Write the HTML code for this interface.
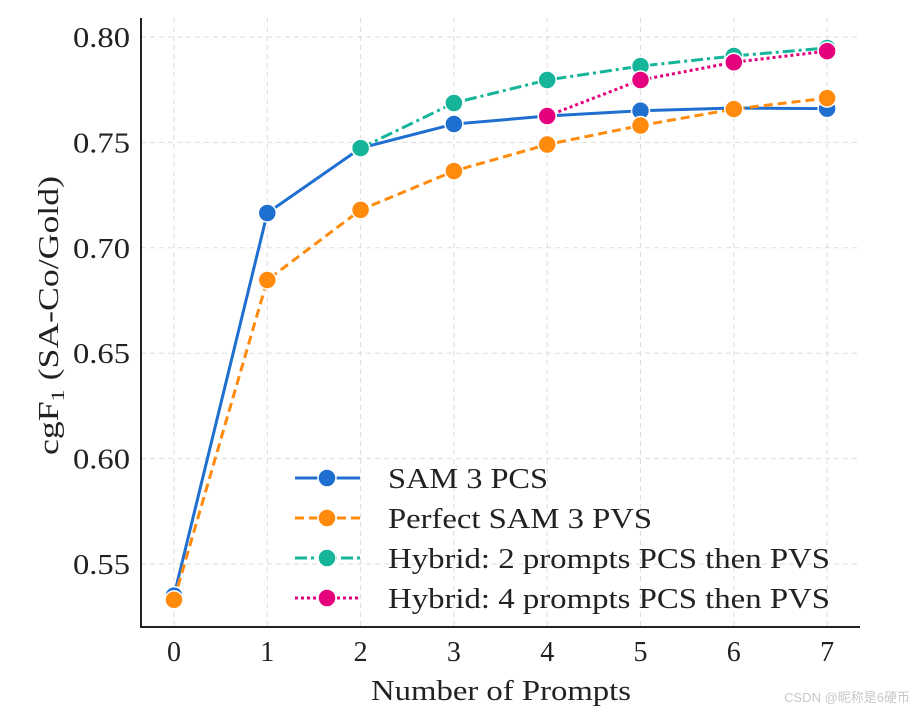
<!DOCTYPE html>
<html><head><meta charset="utf-8"><style>
body{margin:0;background:#fff}
svg text{font-family:"Liberation Serif",serif;fill:#222}
</style></head><body>
<svg id="chart" width="916" height="714" xmlns="http://www.w3.org/2000/svg">
<g id="grid"></g>
<g id="axes"></g>
<g id="series"></g>
<g id="legend"></g>
<text x="371" y="700" font-size="28" textLength="260" lengthAdjust="spacingAndGlyphs">Number of Prompts</text>
<text transform="translate(58,455) rotate(-90)" font-size="28" textLength="279" lengthAdjust="spacingAndGlyphs">cgF<tspan font-size="19" dy="6">1</tspan><tspan dy="-6"> (SA-Co/Gold)</tspan></text>
<text x="910" y="702" font-size="13" text-anchor="end" style="font-family:'Liberation Sans','Noto Sans CJK SC',sans-serif;fill:#c8c8c8">CSDN @昵称是6硬币</text>
</svg>
<script>
const xCats=[0,1,2,3,4,5,6,7];
const yTicks=[0.55,0.60,0.65,0.70,0.75,0.80];
const pcs=[0.535,0.7165,0.7473,0.7587,0.7625,0.765,0.7663,0.766];
const pvs=[0.533,0.6847,0.718,0.7364,0.749,0.758,0.7658,0.771];
const hyb2X=[2,3,4,5,6,7];
const hyb2=[0.7473,0.7687,0.7796,0.7862,0.791,0.7948];
const hyb4X=[4,5,6,7];
const hyb4=[0.7625,0.7796,0.788,0.7933];
const names=["SAM 3 PCS","Perfect SAM 3 PVS","Hybrid: 2 prompts PCS then PVS","Hybrid: 4 prompts PCS then PVS"];
const nameW=[160,264,442,442];
const NS="http://www.w3.org/2000/svg";
const X=v=>174+v*93.3, Y=v=>564-(v-0.55)*2108;
function mk(p,t,a){const e=document.createElementNS(NS,t);for(const k in a)e.setAttribute(k,a[k]);p.appendChild(e);return e;}
const G=document.getElementById('grid'),A=document.getElementById('axes'),S=document.getElementById('series'),L=document.getElementById('legend');
xCats.forEach(c=>{const l=mk(G,'line',{x1:X(c),x2:X(c),y1:18,y2:627,stroke:'#ddd','stroke-dasharray':'5,4'});

const t=mk(A,'text',{x:X(c),y:661,'font-size':28,'text-anchor':'middle'});t.textContent=c;
});
yTicks.forEach(v=>{const l=mk(G,'line',{x1:141,x2:860,y1:Y(v),y2:Y(v),stroke:'#ddd','stroke-dasharray':'5,4'});

const t=mk(A,'text',{x:73,y:Y(v)+10,'font-size':28,textLength:57,lengthAdjust:'spacingAndGlyphs'});t.textContent=v.toFixed(2);
});
const sp=mk(A,'path',{d:'M141,18 V627 H860',fill:'none',stroke:'#222','stroke-width':2});

const defs=[{xs:xCats,ys:pcs,c:'#1f6fd0',d:'',n:'series-sam3-pcs'},
{xs:xCats,ys:pvs,c:'#ff8a0c',d:'9,5',n:'series-perfect-pvs'},
{xs:hyb2X,ys:hyb2,c:'#16b59a',d:'12,4,3,4',n:'series-hybrid-2'},
{xs:hyb4X,ys:hyb4,c:'#e5007d',d:'3,3',n:'series-hybrid-4'}];
defs.forEach((s,i)=>{
const g=mk(S,'g',{});
const p=mk(g,'polyline',{points:s.xs.map((x,j)=>X(x)+','+Y(s.ys[j])).join(' '),fill:'none',stroke:s.c,'stroke-width':3,'stroke-dasharray':s.d});

s.xs.forEach((x,j)=>{const m=mk(g,'circle',{cx:X(x),cy:Y(s.ys[j]),r:9,fill:s.c,stroke:'#fff','stroke-width':1.5});
});
const ly=478+i*40;
const lg=mk(L,'g',{});
mk(lg,'line',{x1:295,x2:360,y1:ly,y2:ly,stroke:s.c,'stroke-width':3,'stroke-dasharray':s.d});
mk(lg,'circle',{cx:327,cy:ly,r:9,fill:s.c,stroke:'#fff','stroke-width':1.5});
const t=mk(lg,'text',{x:388,y:ly+10,'font-size':28,textLength:nameW[i],lengthAdjust:'spacingAndGlyphs'});t.textContent=names[i];
});
</script>
</body></html>
